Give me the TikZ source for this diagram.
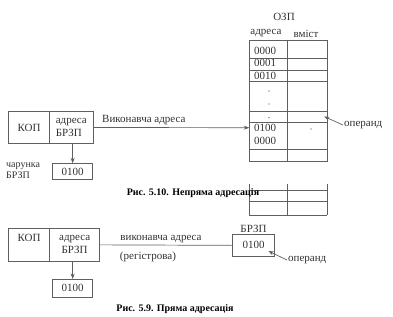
\documentclass[tikz,border=0pt]{standalone}
\usepackage{fontspec}
\setmainfont{Liberation Serif}
\usetikzlibrary{arrows.meta}

\definecolor{adrink}{RGB}{50,50,50}
\definecolor{adrline}{RGB}{95,95,95}

\begin{document}
\begin{tikzpicture}[x=1pt,y=-1pt,font=\fontsize{11}{13}\selectfont,>={Stealth[length=5.5pt,width=4pt]},
    cell/.style={draw=adrline,line width=.7pt,anchor=north west,inner sep=0pt,text=adrink},
    txt/.style={text=adrink,inner sep=1pt},
    caption/.style={font=\fontsize{10}{12}\selectfont\bfseries,inner sep=0pt}]
    \useasboundingbox (0,0) rectangle (393,316);
    % --- upper picture: indirect addressing
    \node[cell,minimum width=41pt,minimum height=32.3pt] (kopA) at (8.3,111) {КОП};
    \node[cell,minimum width=43.4pt,minimum height=32.3pt,align=left] (adrA) at (49.3,111)
      {адреса\\БРЗП};
    \node[cell,minimum width=40pt,minimum height=15.7pt] (cellA) at (52.3,163.3) {0100};
    \node[txt,anchor=west,align=left,font=\fontsize{10}{11}\selectfont] (cellAlbl) at (5,171)
      {чарунка\\БРЗП};
    \draw[->,adrline,line width=.7pt] (cellA.north |- adrA.south) -- (cellA.north);
    % memory table
    \draw[adrline,line width=.7pt] (249.3,40.7) rectangle (327,161);
    \draw[adrline,line width=.7pt] (287.7,40.7) -- (287.7,161);
    \foreach \y in {58.3,70,81.7,111,122.5,149} {
      \draw[adrline,line width=.7pt] (249.3,\y) -- (327,\y);
    }
    \node[txt] (ozp) at (284,17) {ОЗП};
    \node[txt] (hdrAdr) at (266,33.5) {адреса};
    \node[txt] (hdrVal) at (306,33.5) {вміст};
    \foreach \v/\y in {0000/50.5,0001/62.7,0010/75.5,0100/128,0000/141} {
      \node[txt] at (265,\y) {\v};
    }
    \foreach \a/\b in {269/91,269/104,269/117.7,311/129} {
      \fill[adrink] (\a,\b) circle (.6pt);
    }
    \coordinate (tblIn) at (249.3,127.7);
    \draw[->,adrline,line width=.7pt] (adrA.east) -- (tblIn);
    \node[txt,anchor=south west] (exeA) at (101,126) {Виконавча адреса};
    \coordinate (opTipA) at (324,116.5);
    \node[txt,anchor=west] (opA) at (343,125) {операнд};
    \draw[->,adrline,line width=.7pt] (opA.west) -- (opTipA);
    % rest of the table, below the caption
    \foreach \x in {249.3,287.7,327} {
      \draw[adrline,line width=.7pt] (\x,184) -- (\x,215);
    }
    \foreach \y in {190.7,201.5,215} {
      \draw[adrline,line width=.7pt] (249.3,\y) -- (327,\y);
    }
    \node[caption] (capA) at (193,193.5) {Рис. 5.10. Непряма адресація};
    % --- lower picture: direct addressing
    \node[cell,minimum width=41pt,minimum height=32.4pt,align=center] (kopB) at (8.3,228.3)
      {КОП\\~};
    \node[cell,minimum width=50pt,minimum height=32.4pt,align=center] (adrB) at (49.3,228.3)
      {адреса\\БРЗП};
    \node[cell,minimum width=40pt,minimum height=17.7pt] (cellB) at (52.3,279) {0100};
    \draw[->,adrline,line width=.7pt] (cellB.north |- adrB.south) -- (cellB.north);
    \node[cell,minimum width=41.7pt,minimum height=22pt] (regB) at (232.3,234) {0100};
    \node[txt,anchor=south] (regBlbl) at (regB.north) {БРЗП};
    \draw[adrline,line width=.7pt] (adrB.east) -- (regB.west);
    \node[txt,anchor=south] (exeB) at (161,244) {виконавча адреса};
    \node[txt] (regKind) at (148,257) {(регістрова)};
    \coordinate (opTipB) at (268.3,251);
    \node[txt,anchor=west] (opB) at (287,260) {операнд};
    \draw[->,adrline,line width=.7pt] (opB.west) -- (opTipB);
    \node[caption] (capB) at (175,309.5) {Рис. 5.9. Пряма адресація};
  \end{tikzpicture}
\end{document}
